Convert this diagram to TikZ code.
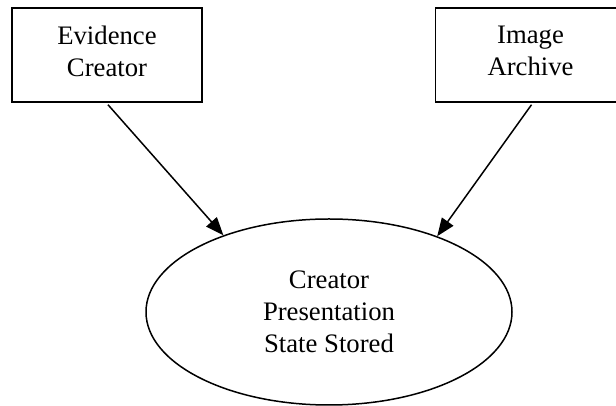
\documentclass[tikz,border=0pt]{standalone}
\usepackage{fontspec}
\setmainfont{Liberation Serif}
\usetikzlibrary{shapes.geometric,arrows.meta}
\begin{document}
\begin{tikzpicture}[x=1pt,y=1pt,
  txt/.style={align=center, inner sep=0pt, font=\fontsize{26.7}{32}\selectfont},
  box/.style={draw, line width=1.5pt, minimum width=190pt, minimum height=94pt, inner sep=0pt},
  oval/.style={ellipse, draw, line width=1.5pt, minimum width=366pt, minimum height=186pt, inner sep=0pt, txt},
  conn/.style={line width=1.5pt, -{Triangle[length=18pt,width=14pt]}}]
\useasboundingbox (0,0) rectangle (616,406);
\clip (0,0) rectangle (616,406);
\node[box, label={[txt, yshift=4pt]center:Evidence\\Creator}] (ev) at (107,351) {};
\node[box, label={[txt, yshift=4pt]center:Image\\Archive}] (ia) at (530.5,351) {};
\node[oval] (cp) at (329,94) {Creator\\Presentation\\State Stored};
\draw[conn] ([xshift=1pt,yshift=-2pt]ev.south) -- (cp.144.8);
\draw[conn] ([xshift=1pt,yshift=-2pt]ia.south) -- (cp.35.2);
\end{tikzpicture}
\end{document}
